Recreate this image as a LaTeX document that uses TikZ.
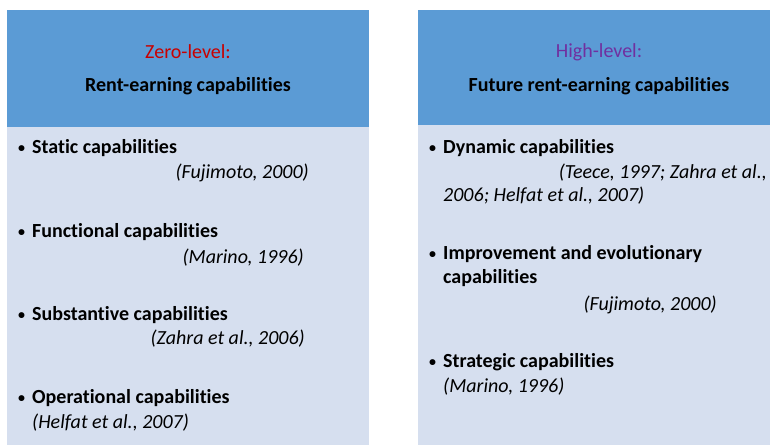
\documentclass[tikz,border=0pt]{standalone}
\usepackage{fontspec}
\setmainfont[Ligatures={NoCommon}]{Carlito}
\definecolor{hdrblue}{RGB}{91,155,213}
\definecolor{bodyblue}{RGB}{214,223,239}
\definecolor{zerored}{RGB}{200,0,0}
\definecolor{highpurple}{RGB}{112,48,160}
\newcommand{\blt}{\makebox[14pt][l]{\raisebox{1pt}{\fontsize{14}{14}\selectfont\textbullet}}}
\begin{document}
\begin{tikzpicture}[x=1pt,y=-1pt,
  hdr/.style={fill=hdrblue,draw=none},
  bodybox/.style={fill=bodyblue,draw=none},
  level/.style={font=\fontsize{20}{24}\selectfont, inner sep=0pt},
  title/.style={font=\fontsize{20}{24}\selectfont\bfseries, inner sep=0pt},
  item/.style={font=\fontsize{20}{24}\selectfont\bfseries, inner sep=0pt, anchor=west},
  cite/.style={font=\fontsize{20}{24}\selectfont\itshape, inner sep=0pt}
]
\useasboundingbox (0,0) rectangle (770,445);
% left column
\path[hdr] (7,10) rectangle (369,127);
\path[bodybox] (7,127) rectangle (369,445);
\node[level, text=zerored] (l1) at (188,52) {Zero-level:};
\node[title] (l2) at (188,86) {Rent-earning capabilities};
\node[item] (a1) at (18,148) {\blt Static capabilities};
\node[cite, anchor=east] (a1c) at (309,173) {(Fujimoto, 2000)};
\node[item] (a2) at (18,232) {\blt Functional capabilities};
\node[cite, anchor=east] (a2c) at (304,258) {(Marino, 1996)};
\node[item] (a3) at (18,315) {\blt Substantive capabilities};
\node[cite, anchor=east] (a3c) at (305,339) {(Zahra et al., 2006)};
\node[item] (a4) at (18,398) {\blt Operational capabilities};
\node[cite, anchor=west] (a4c) at (32,423) {(Helfat et al., 2007)};
% right column
\path[hdr] (418,10) rectangle (770,125);
\path[bodybox] (418,125) rectangle (770,445);
\node[level, text=highpurple] (r1) at (599,52) {High-level:};
\node[title] (r2) at (599,86) {Future rent-earning capabilities};
\node[item] (b1) at (429,148) {\blt Dynamic capabilities};
\node[cite, anchor=east] (b1c) at (767,173) {(Teece, 1997; Zahra et al.,};
\node[cite, anchor=west] (b1d) at (443,196) {2006; Helfat et al., 2007)};
\node[item] (b2) at (429,254) {\blt Improvement and evolutionary};
\node[item] (b2b) at (443,278) {capabilities};
\node[cite, anchor=east] (b2c) at (717,305) {(Fujimoto, 2000)};
\node[item] (b3) at (429,362) {\blt Strategic capabilities};
\node[cite, anchor=west] (b3c) at (443,387) {(Marino, 1996)};
\end{tikzpicture}
\end{document}
